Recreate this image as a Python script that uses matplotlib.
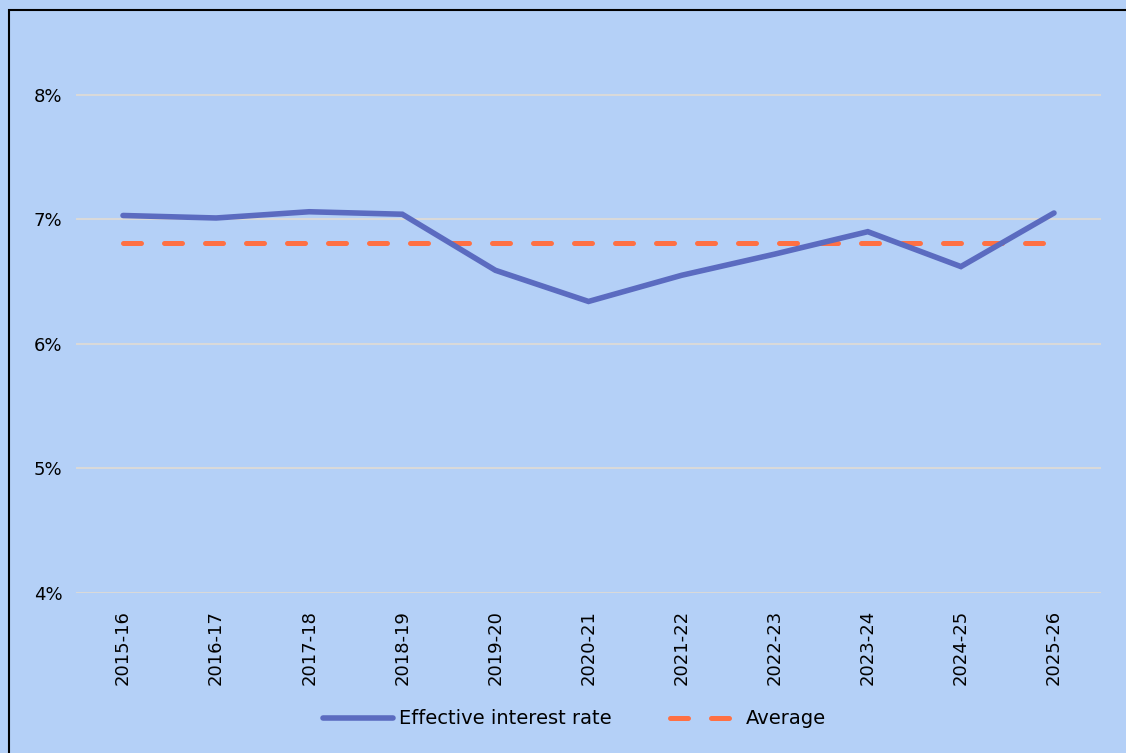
import matplotlib.pyplot as plt
from matplotlib.patches import Rectangle
from matplotlib.ticker import FuncFormatter

# ---- Data ----
years = ['2015-16', '2016-17', '2017-18', '2018-19', '2019-20', '2020-21',
         '2021-22', '2022-23', '2023-24', '2024-25', '2025-26']
effective_rate = [7.03, 7.01, 7.06, 7.04, 6.59, 6.34, 6.55, 6.72, 6.90, 6.62, 7.05]
average_rate = [6.81] * len(years)
y_ticks = [4, 5, 6, 7, 8]

bg = '#b4d0f7'
blue = '#5b6bc0'
orange = '#ff7043'

plt.rcParams['font.family'] = ['DejaVu Sans']

fig = plt.figure(figsize=(11.26, 7.53), dpi=100, facecolor=bg)
ax = fig.add_axes([0.0679, 0.2125, 0.9095, 0.728])
ax.set_facecolor(bg)

# outer frame (only top and left edges fall inside the canvas)
fig.patches.append(Rectangle((9 / 1126, -0.1), 1.2, 1 - 10 / 753 + 0.1,
                             transform=fig.transFigure, fill=False,
                             edgecolor='black', linewidth=1.5))

x = range(len(years))
ax.plot(x, effective_rate, color=blue, linewidth=4.0,
        solid_capstyle='round', solid_joinstyle='miter',
        label='Effective interest rate', zorder=3)
ax.plot(x, average_rate, color=orange, linewidth=3.6,
        linestyle=(0, (3.6, 4.6)), dash_capstyle='round',
        label='Average', zorder=2)

ax.set_xlim(-0.5, len(years) - 0.5)
ax.set_ylim(4, 8.4)
ax.set_yticks(y_ticks)
ax.yaxis.set_major_formatter(FuncFormatter(lambda v, p: f'{v:.0f}%'))
ax.set_xticks(list(x))
ax.set_xticklabels(years, rotation=90)
ax.tick_params(axis='both', length=0, labelsize=13)
ax.tick_params(axis='x', pad=12)
ax.tick_params(axis='y', pad=10)
ax.grid(axis='y', color='#d9d9d9', linewidth=1.5)
ax.set_axisbelow(True)
for s in ax.spines.values():
    s.set_visible(False)

leg = fig.legend(loc='center', bbox_to_anchor=(0.51, 1 - 719 / 753), ncol=2,
                 frameon=False, fontsize=14, handlelength=3.6,
                 columnspacing=3.0, handletextpad=0.3)

fig.savefig('out.png', dpi=100, facecolor=bg)
